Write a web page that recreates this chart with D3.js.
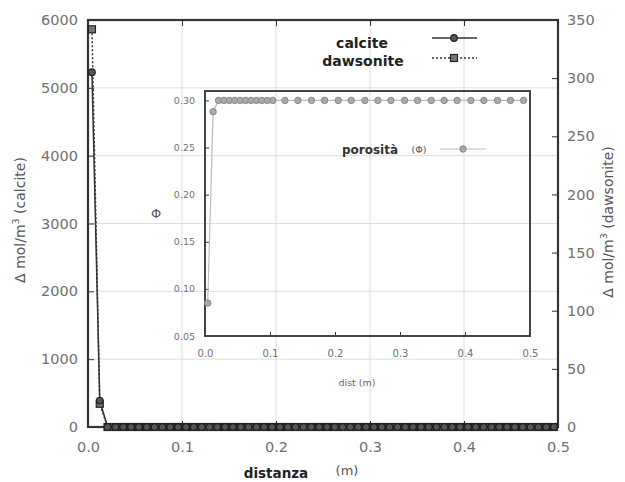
<!DOCTYPE html>
<html>
<head>
<meta charset="utf-8">
<script src="https://cdn.jsdelivr.net/npm/d3@7"></script>
<style>
  body { margin: 0; background: #fff; }
  text { font-family: "DejaVu Sans", sans-serif; }
</style>
</head>
<body>
<div id="chart"></div>
<script>
// cell centres along the column (m)
const distX = [0.0042, 0.0125, 0.0208, 0.0292, 0.0375, 0.0458, 0.0542, 0.0625, 0.0708, 0.0792,
  0.0875, 0.0958, 0.1042, 0.1125, 0.1208, 0.1292, 0.1375, 0.1458, 0.1542, 0.1625,
  0.1708, 0.1792, 0.1875, 0.1958, 0.2042, 0.2125, 0.2208, 0.2292, 0.2375, 0.2458,
  0.2542, 0.2625, 0.2708, 0.2792, 0.2875, 0.2958, 0.3042, 0.3125, 0.3208, 0.3292,
  0.3375, 0.3458, 0.3542, 0.3625, 0.3708, 0.3792, 0.3875, 0.3958, 0.4042, 0.4125,
  0.4208, 0.4292, 0.4375, 0.4458, 0.4542, 0.4625, 0.4708, 0.4792, 0.4875, 0.4958]
const calcite = [5230, 390, 0, 0, 0, 0, 0, 0, 0, 0,
  0, 0, 0, 0, 0, 0, 0, 0, 0, 0,
  0, 0, 0, 0, 0, 0, 0, 0, 0, 0,
  0, 0, 0, 0, 0, 0, 0, 0, 0, 0,
  0, 0, 0, 0, 0, 0, 0, 0, 0, 0,
  0, 0, 0, 0, 0, 0, 0, 0, 0, 0]
const dawsonite = [342, 20, 0, 0, 0, 0, 0, 0, 0, 0,
  0, 0, 0, 0, 0, 0, 0, 0, 0, 0,
  0, 0, 0, 0, 0, 0, 0, 0, 0, 0,
  0, 0, 0, 0, 0, 0, 0, 0, 0, 0,
  0, 0, 0, 0, 0, 0, 0, 0, 0, 0,
  0, 0, 0, 0, 0, 0, 0, 0, 0, 0]

// inset: porosity
const porX = [0.0042, 0.0125, 0.0208, 0.0292, 0.0375, 0.0458, 0.0542, 0.0625, 0.0708, 0.0792,
  0.0875, 0.0958, 0.1042, 0.123, 0.143, 0.164, 0.184, 0.205, 0.225, 0.246,
  0.266, 0.286, 0.307, 0.327, 0.348, 0.368, 0.388, 0.409, 0.429, 0.450,
  0.470, 0.490]
const porosity = [0.085, 0.288, 0.30, 0.30, 0.30, 0.30, 0.30, 0.30, 0.30, 0.30,
  0.30, 0.30, 0.30, 0.30, 0.30, 0.30, 0.30, 0.30, 0.30, 0.30,
  0.30, 0.30, 0.30, 0.30, 0.30, 0.30, 0.30, 0.30, 0.30, 0.30,
  0.30, 0.30]

const xTicks = [0, 0.1, 0.2, 0.3, 0.4, 0.5]
const leftTicks = [0, 1000, 2000, 3000, 4000, 5000, 6000]
const rightTicks = [0, 50, 100, 150, 200, 250, 300, 350]
const insetYTicks = [0.05, 0.10, 0.15, 0.20, 0.25, 0.30]

const W = 625, H = 482
const frame = {left: 88, right: 558, top: 20, bottom: 427}
const inset = {left: 205, right: 530, top: 91, bottom: 336}

const svg = d3.select("#chart").append("svg")
  .attr("width", W)
  .attr("height", H)

const x = d3.scaleLinear().domain([0, 0.5]).range([frame.left, frame.right])
const yL = d3.scaleLinear().domain([0, 6000]).range([frame.bottom, frame.top])
const yR = d3.scaleLinear().domain([0, 350]).range([frame.bottom, frame.top])
const xIn = d3.scaleLinear().domain([0, 0.5]).range([inset.left, inset.right])
const yIn = d3.scaleLinear().domain([0.05, 0.31]).range([inset.bottom, inset.top])

const labelColor = "#707070"
const frameColor = "#333"

// grid
const grid = svg.append("g").attr("stroke", "#ddd").attr("stroke-width", 1)
grid.selectAll(".gx").data(xTicks.slice(1, -1)).join("line")
  .attr("x1", d => x(d)).attr("x2", d => x(d))
  .attr("y1", frame.top).attr("y2", frame.bottom)
grid.selectAll(".gy").data(leftTicks.slice(1, -1)).join("line")
  .attr("x1", frame.left).attr("x2", frame.right)
  .attr("y1", d => yL(d)).attr("y2", d => yL(d))

function styleAxis(g, size) {
  g.select(".domain").remove()
  g.selectAll(".tick line").attr("stroke", frameColor)
  g.selectAll(".tick text").attr("fill", labelColor).attr("font-size", size)
}

svg.append("g")
  .attr("transform", `translate(${frame.left},0)`)
  .call(d3.axisLeft(yL).tickValues(leftTicks).tickSize(-6).tickPadding(10).tickFormat(d3.format("d")))
  .call(g => styleAxis(g, 14.5))

svg.append("g")
  .attr("transform", `translate(${frame.right},0)`)
  .call(d3.axisRight(yR).tickValues(rightTicks).tickSize(-6).tickPadding(9).tickFormat(d3.format("d")))
  .call(g => styleAxis(g, 14.5))

svg.append("g")
  .attr("transform", `translate(0,${frame.bottom})`)
  .call(d3.axisBottom(x).tickValues(xTicks).tickSize(-6).tickPadding(15).tickFormat(d3.format(".1f")))
  .call(g => styleAxis(g, 14.5))

svg.append("g")
  .attr("transform", `translate(0,${frame.top})`)
  .call(d3.axisTop(x).tickValues(xTicks).tickSize(-6).tickFormat(""))
  .call(g => styleAxis(g, 14))

svg.append("rect")
  .attr("x", frame.left).attr("y", frame.top)
  .attr("width", frame.right - frame.left).attr("height", frame.bottom - frame.top)
  .attr("fill", "none").attr("stroke", frameColor).attr("stroke-width", 2.2)

// axis titles
const leftTitle = svg.append("text")
  .attr("transform", `translate(25,220) rotate(-90)`)
  .attr("text-anchor", "middle").attr("font-size", 14).attr("fill", "#555")
leftTitle.append("tspan").text("Δ mol/m")
leftTitle.append("tspan").attr("dy", -6).attr("font-size", 9.5).text("3")
leftTitle.append("tspan").attr("dy", 6).text("  (calcite)")

const rightTitle = svg.append("text")
  .attr("transform", `translate(613,222) rotate(-90)`)
  .attr("text-anchor", "middle").attr("font-size", 14).attr("fill", "#555")
rightTitle.append("tspan").text("Δ mol/m")
rightTitle.append("tspan").attr("dy", -6).attr("font-size", 9.5).text("3")
rightTitle.append("tspan").attr("dy", 6).text("  (dawsonite)")

svg.append("text")
  .attr("x", 276).attr("y", 478)
  .attr("text-anchor", "middle").attr("font-size", 13.5).attr("font-weight", "bold").attr("fill", "#222")
  .text("distanza")
svg.append("text")
  .attr("x", 347).attr("y", 475)
  .attr("text-anchor", "middle").attr("font-size", 13).attr("fill", "#555")
  .text("(m)")

// main series
const calRows = distX.map((d, i) => ({x: d, y: calcite[i]}))
const dawRows = distX.map((d, i) => ({x: d, y: dawsonite[i]}))

svg.append("path")
  .datum(calRows)
  .attr("d", d3.line().x(d => x(d.x)).y(d => yL(d.y)))
  .attr("fill", "none").attr("stroke", "#333").attr("stroke-width", 1.5)

svg.append("path")
  .datum(dawRows)
  .attr("d", d3.line().x(d => x(d.x)).y(d => yR(d.y)))
  .attr("fill", "none").attr("stroke", "#333").attr("stroke-width", 1.5)
  .attr("stroke-dasharray", "2,2")

const sq = 7
svg.append("g").selectAll("rect")
  .data(dawRows)
  .join("rect")
    .attr("x", d => x(d.x) - sq / 2)
    .attr("y", d => yR(d.y) - sq / 2)
    .attr("width", sq).attr("height", sq)
    .attr("fill", "#777").attr("stroke", "#222").attr("stroke-width", 1.2)

svg.append("g").selectAll("circle")
  .data(calRows)
  .join("circle")
    .attr("cx", d => x(d.x))
    .attr("cy", d => yL(d.y))
    .attr("r", 3.3)
    .attr("fill", "#555").attr("stroke", "#222").attr("stroke-width", 1.2)

// main legend
const legend = svg.append("g")
legend.append("text").attr("x", 362).attr("y", 48)
  .attr("text-anchor", "middle").attr("font-size", 14).attr("font-weight", "bold").attr("fill", "#222")
  .text("calcite")
legend.append("text").attr("x", 363).attr("y", 66)
  .attr("text-anchor", "middle").attr("font-size", 14).attr("font-weight", "bold").attr("fill", "#222")
  .text("dawsonite")
legend.append("line").attr("x1", 432).attr("x2", 477).attr("y1", 38).attr("y2", 38)
  .attr("stroke", "#333").attr("stroke-width", 1.5)
legend.append("circle").attr("cx", 454).attr("cy", 38).attr("r", 3.3)
  .attr("fill", "#555").attr("stroke", "#222").attr("stroke-width", 1.2)
legend.append("line").attr("x1", 432).attr("x2", 477).attr("y1", 58).attr("y2", 58)
  .attr("stroke", "#333").attr("stroke-width", 1.5).attr("stroke-dasharray", "2,2")
legend.append("rect").attr("x", 454 - sq / 2).attr("y", 58 - sq / 2).attr("width", sq).attr("height", sq)
  .attr("fill", "#777").attr("stroke", "#222").attr("stroke-width", 1.2)

// inset
const ins = svg.append("g")

ins.append("g")
  .attr("transform", `translate(${inset.left},0)`)
  .call(d3.axisLeft(yIn).tickValues(insetYTicks).tickSize(-4).tickPadding(10).tickFormat(d3.format(".2f")))
  .call(g => styleAxis(g, 9.5))

ins.append("g")
  .attr("transform", `translate(0,${inset.bottom})`)
  .call(d3.axisBottom(xIn).tickValues(xTicks).tickSize(-4).tickPadding(14).tickFormat(d3.format(".1f")))
  .call(g => styleAxis(g, 10))

ins.append("rect")
  .attr("x", inset.left).attr("y", inset.top)
  .attr("width", inset.right - inset.left).attr("height", inset.bottom - inset.top)
  .attr("fill", "none").attr("stroke", "#444").attr("stroke-width", 2)

ins.append("text").attr("x", 156).attr("y", 218)
  .attr("text-anchor", "middle").attr("font-size", 13).attr("fill", "#555")
  .text("Φ")
ins.append("text").attr("x", 357).attr("y", 386)
  .attr("text-anchor", "middle").attr("font-size", 9.5).attr("fill", "#666")
  .text("dist (m)")

const porRows = porX.map((d, i) => ({x: d, y: porosity[i]}))
ins.append("path")
  .datum(porRows)
  .attr("d", d3.line().x(d => xIn(d.x)).y(d => yIn(d.y)))
  .attr("fill", "none").attr("stroke", "#bbb").attr("stroke-width", 1.2)
ins.append("g").selectAll("circle")
  .data(porRows)
  .join("circle")
    .attr("cx", d => xIn(d.x))
    .attr("cy", d => yIn(d.y))
    .attr("r", 3.2)
    .attr("fill", "#aaa").attr("stroke", "#888").attr("stroke-width", 1)

ins.append("text").attr("x", 370).attr("y", 154)
  .attr("text-anchor", "middle").attr("font-size", 12).attr("font-weight", "bold").attr("fill", "#333")
  .text("porosità")
ins.append("text").attr("x", 419).attr("y", 153)
  .attr("text-anchor", "middle").attr("font-size", 9.5).attr("fill", "#555")
  .text("(Φ)")
ins.append("line").attr("x1", 440).attr("x2", 486).attr("y1", 149).attr("y2", 149)
  .attr("stroke", "#bbb").attr("stroke-width", 1.2)
ins.append("circle").attr("cx", 463).attr("cy", 149).attr("r", 3.2)
  .attr("fill", "#aaa").attr("stroke", "#888").attr("stroke-width", 1)
</script>
</body>
</html>
